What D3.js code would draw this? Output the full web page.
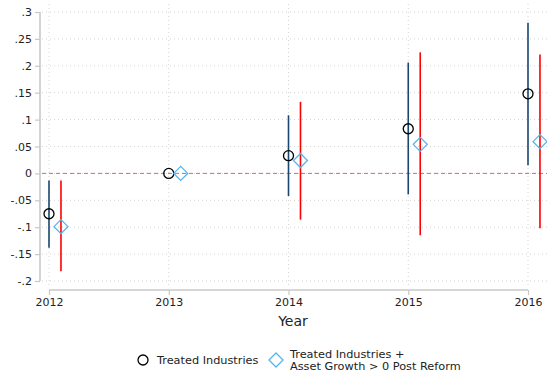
<!DOCTYPE html>
<html><head><meta charset="utf-8">
<script src="https://cdn.jsdelivr.net/npm/d3@7"></script>
<style>body{margin:0;background:#fff;}svg{display:block;font-family:"DejaVu Sans",sans-serif;}</style>
</head><body>
<svg id="c" width="547" height="375"></svg>
<script>
const years = [2012, 2013, 2014, 2015, 2016];
const treatedEst = [-0.075, 0, 0.033, 0.083, 0.148];
const treatedLo  = [-0.138, null, -0.042, -0.039, 0.015];
const treatedHi  = [-0.013, null, 0.108, 0.206, 0.280];
const assetEst = [-0.099, 0, 0.024, 0.054, 0.059];
const assetLo  = [-0.182, null, -0.086, -0.115, -0.102];
const assetHi  = [-0.013, null, 0.133, 0.225, 0.221];
const yTicks = [0.3, 0.25, 0.2, 0.15, 0.1, 0.05, 0, -0.05, -0.1, -0.15, -0.2];
const yTickLabels = [".3", ".25", ".2", ".15", ".1", ".05", "0", "-.05", "-.1", "-.15", "-.2"];
const legendLabels = ["Treated Industries", ["Treated Industries +", "Asset Growth > 0 Post Reform"]];

const svg = d3.select("#c");
const x = d3.scaleLinear().domain([2012, 2016]).range([49, 528]);
const y = d3.scaleLinear().domain([-0.2, 0.3]).range([281, 12]);
const off = 0.1;

// grid
const grid = svg.append("g");
yTicks.forEach(t => {
  grid.append("line").attr("x1", 42).attr("x2", 547).attr("y1", y(t)).attr("y2", y(t))
    .attr("stroke", "#d4d4d4").attr("stroke-width", 1).attr("stroke-dasharray", "1,3");
});
years.forEach(t => {
  grid.append("line").attr("x1", x(t)).attr("x2", x(t)).attr("y1", 4).attr("y2", 288)
    .attr("stroke", "#d4d4d4").attr("stroke-width", 1).attr("stroke-dasharray", "1,3");
});

// y axis
const yAxis = d3.axisLeft(y).tickValues(yTicks).tickFormat((d, i) => yTickLabels[i]).tickSize(5).tickPadding(3);
const gy = svg.append("g").attr("transform", "translate(40,0)").call(yAxis);
gy.select(".domain").attr("stroke", "#c8c8c8").attr("stroke-width", 1.6).attr("d", `M0,${y(0.3)}V${y(-0.2)}`);
gy.selectAll(".tick line").attr("stroke", "#c8c8c8").attr("stroke-width", 1.2);
gy.selectAll(".tick text").attr("font-size", 11).attr("fill", "#222").attr("font-family", "DejaVu Sans");

// x axis
const xAxis = d3.axisBottom(x).tickValues(years).tickFormat(d3.format("d")).tickSize(5).tickPadding(3);
const gx = svg.append("g").attr("transform", "translate(0,290)").call(xAxis);
gx.select(".domain").attr("stroke", "#c8c8c8").attr("stroke-width", 1.6).attr("d", `M${x(2012)},0H${x(2016)}`);
gx.selectAll(".tick line").attr("stroke", "#c8c8c8").attr("stroke-width", 1.2);
gx.selectAll(".tick text").attr("font-size", 11).attr("fill", "#222").attr("font-family", "DejaVu Sans");

svg.append("text").attr("x", 293).attr("y", 326).attr("text-anchor", "middle")
  .attr("font-size", 14).attr("fill", "#222").text("Year");

// zero line
svg.append("line").attr("x1", 42).attr("x2", 547).attr("y1", y(0)).attr("y2", y(0))
  .attr("stroke", "#c86a9a").attr("stroke-width", 1).attr("stroke-dasharray", "4,3");

// CIs
years.forEach((yr, i) => {
  if (treatedLo[i] !== null)
    svg.append("line").attr("x1", x(yr)).attr("x2", x(yr)).attr("y1", y(treatedLo[i])).attr("y2", y(treatedHi[i]))
      .attr("stroke", "#1a476f").attr("stroke-width", 1.6);
  if (assetLo[i] !== null)
    svg.append("line").attr("x1", x(yr + off)).attr("x2", x(yr + off)).attr("y1", y(assetLo[i])).attr("y2", y(assetHi[i]))
      .attr("stroke", "#ff0000").attr("stroke-width", 1.6);
});

const diamond = (cx, cy, r) => `M${cx},${cy - r}L${cx + r},${cy}L${cx},${cy + r}L${cx - r},${cy}Z`;

// markers
years.forEach((yr, i) => {
  svg.append("circle").attr("cx", x(yr)).attr("cy", y(treatedEst[i])).attr("r", 5)
    .attr("fill", "none").attr("stroke", "#000").attr("stroke-width", 1.3);
  svg.append("path").attr("d", diamond(x(yr + off), y(assetEst[i]), 7))
    .attr("fill", "none").attr("stroke", "#55b4ef").attr("stroke-width", 1.3);
});

// legend
svg.append("circle").attr("cx", 143).attr("cy", 360).attr("r", 5)
  .attr("fill", "none").attr("stroke", "#000").attr("stroke-width", 1.3);
svg.append("text").attr("x", 157).attr("y", 364).attr("font-size", 11.3).attr("fill", "#222").text(legendLabels[0]);
svg.append("path").attr("d", diamond(276, 360, 7))
  .attr("fill", "none").attr("stroke", "#55b4ef").attr("stroke-width", 1.3);
const lt = svg.append("text").attr("font-size", 11.3).attr("fill", "#222");
lt.append("tspan").attr("x", 290).attr("y", 358).text(legendLabels[1][0]);
lt.append("tspan").attr("x", 290).attr("y", 370).text(legendLabels[1][1]);
</script>
</body></html>
